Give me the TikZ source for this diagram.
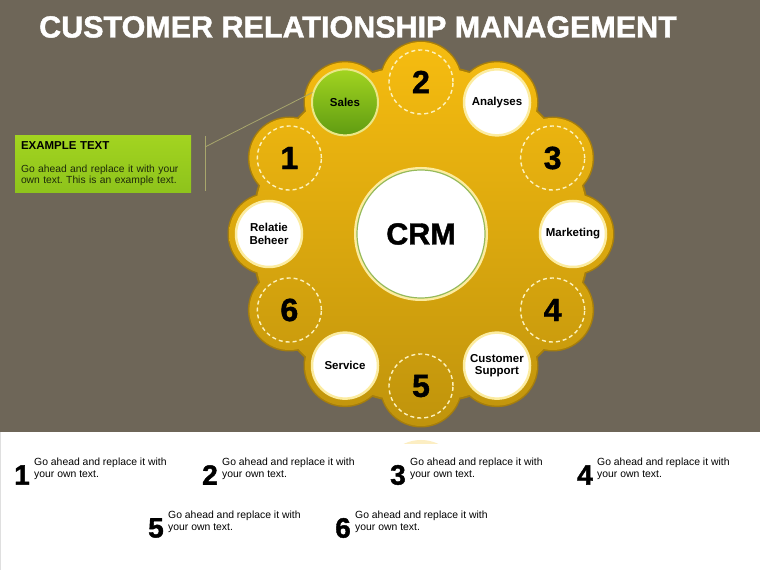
\documentclass[tikz,border=0pt]{standalone}
\usepackage{fontspec}
\setmainfont{Liberation Sans}
\newfontfamily\heavyfont[BoldFeatures={FakeBold=1.4}]{Liberation Sans}
\usetikzlibrary{positioning}
\frenchspacing
\definecolor{crmBack}{RGB}{110,102,88}
\definecolor{crmGold}{RGB}{246,188,16}
\definecolor{crmOchre}{RGB}{192,148,12}
\definecolor{crmRim}{RGB}{166,126,12}
\definecolor{crmCream}{RGB}{252,236,160}
\definecolor{crmGreen}{RGB}{162,212,32}
\definecolor{crmDkGreen}{RGB}{96,156,18}
\definecolor{crmLeaf}{RGB}{150,186,90}
\definecolor{crmLine}{RGB}{168,166,108}
\definecolor{crmInk}{RGB}{30,42,10}

\begin{document}
\begin{tikzpicture}[x=1pt, y=1pt,
    petal/.style={circle, minimum size=66pt, inner sep=0pt, align=center, font=\fontsize{11.5}{12.5}\selectfont\bfseries},
    item/.style={petal, fill=white, draw=crmCream, line width=2.5pt},
    numring/.style={circle, minimum size=64pt, inner sep=0pt, draw=crmCream!70!white, line width=1.4pt, dash pattern=on 4pt off 3pt, font=\fontsize{32}{32}\selectfont\heavyfont\bfseries},
    calloutbox/.style={rectangle, minimum width=176pt, minimum height=55pt, text width=164pt, inner sep=6pt, align=left, top color=crmGreen, bottom color=crmGreen!70!crmDkGreen, font=\fontsize{10.3}{11}\selectfont, text=crmInk},
    bignum/.style={inner sep=0pt, font=\fontsize{28}{28}\selectfont\heavyfont\bfseries},
    itemtext/.style={inner sep=0pt, align=left, font=\fontsize{10.4}{12}\selectfont}
]
    \useasboundingbox (0,0) rectangle (760,570);
    \fill[crmBack] (0,0) rectangle (760,570);

    % flower
    \coordinate (hub) at (421,336);
    \fill[crmRim] (hub) circle (170) \foreach \a in {0,30,...,330} {([shift={(\a:152)}]hub) circle (41.5)};
    \shade[top color=crmGold, bottom color=crmOchre] (hub) circle (168) \foreach \a in {0,30,...,330} {([shift={(\a:152)}]hub) circle (40)};

    \node[numring] (n2) at ([shift={(90:152)}]hub) {2};
    \node[item] (analyses) at ([shift={(60:152)}]hub) {Analyses};
    \node[numring] (n3) at ([shift={(30:152)}]hub) {3};
    \node[item] (marketing) at ([shift={(0:152)}]hub) {Marketing};
    \node[numring] (n4) at ([shift={(-30:152)}]hub) {4};
    \node[item] (support) at ([shift={(-60:152)}]hub) {Customer\\Support};
    \node[numring] (n5) at ([shift={(-90:152)}]hub) {5};
    \node[item] (service) at ([shift={(-120:152)}]hub) {Service};
    \node[numring] (n6) at ([shift={(-150:152)}]hub) {6};
    \node[item] (beheer) at ([shift={(180:152)}]hub) {Relatie\\Beheer};
    \node[numring] (n1) at ([shift={(150:152)}]hub) {1};
    \node[petal, top color=crmGreen, bottom color=crmDkGreen, draw=crmCream!80!crmGreen, line width=2pt] (sales) at ([shift={(120:152)}]hub) {Sales};

    \node[circle, minimum size=128pt, fill=white, draw=crmLeaf, line width=1.2pt, preaction={draw=crmCream, line width=6pt}, font=\fontsize{30.5}{30.5}\selectfont\heavyfont\bfseries] (crm) at (hub) {CRM};

    % title and callout
    \node[text=white, font=\fontsize{30.5}{30.5}\selectfont\heavyfont\bfseries] (title) at (358,543) {CUSTOMER RELATIONSHIP MANAGEMENT};
    \node[calloutbox] (callout) at (103,406) {{\fontsize{11.5}{12}\selectfont\bfseries\color{black}EXAMPLE TEXT}\\[12pt]Go ahead and replace it with your\\own text. This is an example text.};
    \coordinate (brktop) at (205,434);
    \coordinate (brkbot) at (205,379);
    \coordinate (brkmid) at (205,423);
    \draw[crmLine, line width=0.8pt] (brktop) -- (brkbot);
    \draw[crmLine, line width=0.8pt] (brkmid) -- (sales.163);

    % lower panel
    \fill[white] (0,0) rectangle (760,138);
    \draw[gray!25, line width=1pt] (0.5,0) -- (0.5,138);
    \begin{scope}
        \clip (370,126) rectangle (470,138);
        \fill[crmGold, opacity=0.25] (421,90) circle (40);
    \end{scope}

    \node[bignum] (b1) at (22,95) {1};
    \node[itemtext, right=4pt of b1, yshift=6pt] (t1) {Go ahead and replace it with\\your own text.};
    \node[bignum] (b2) at (210,95) {2};
    \node[itemtext, right=4pt of b2, yshift=6pt] (t2) {Go ahead and replace it with\\your own text.};
    \node[bignum] (b3) at (398,95) {3};
    \node[itemtext, right=4pt of b3, yshift=6pt] (t3) {Go ahead and replace it with\\your own text.};
    \node[bignum] (b4) at (585,95) {4};
    \node[itemtext, right=4pt of b4, yshift=6pt] (t4) {Go ahead and replace it with\\your own text.};
    \node[bignum] (b5) at (156,42) {5};
    \node[itemtext, right=4pt of b5, yshift=6pt] (t5) {Go ahead and replace it with\\your own text.};
    \node[bignum] (b6) at (343,42) {6};
    \node[itemtext, right=4pt of b6, yshift=6pt] (t6) {Go ahead and replace it with\\your own text.};
\end{tikzpicture}
\end{document}
